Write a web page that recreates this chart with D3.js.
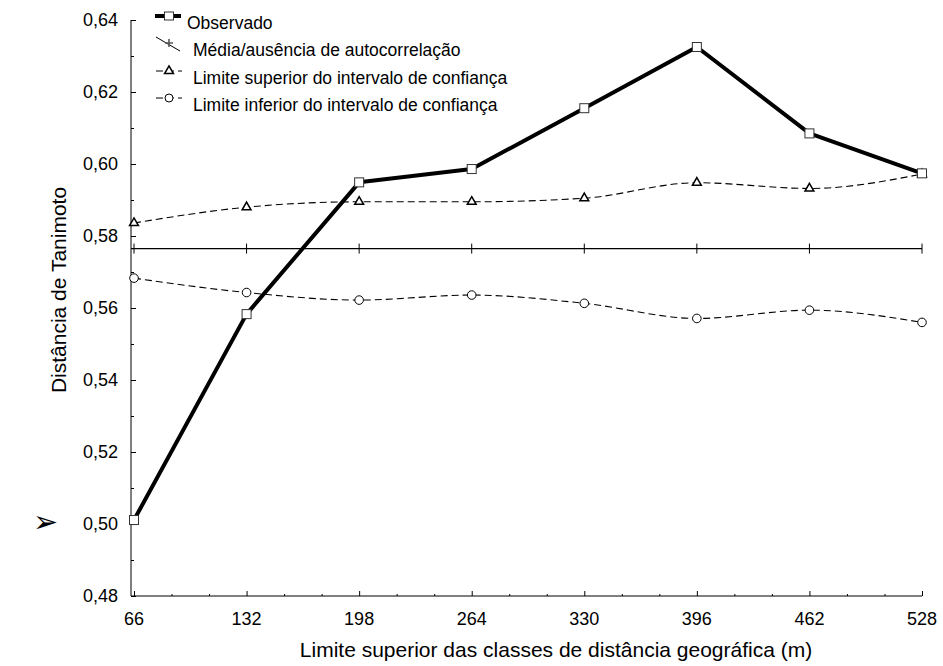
<!DOCTYPE html>
<html><head><meta charset="utf-8">
<script src="https://cdn.jsdelivr.net/npm/d3@7"></script>
<style>
html,body{margin:0;padding:0;background:#fff;}
svg{display:block;font-family:"Liberation Sans",Arial,sans-serif;}
</style></head>
<body>
<svg id="chart" width="943" height="666"></svg>
<script>
const distances = [66, 132, 198, 264, 330, 396, 462, 528];
const observed = [0.5011, 0.5583, 0.5949, 0.5986, 0.6155, 0.6325, 0.6085, 0.5974];
const upperCI = [0.5836, 0.5880, 0.5895, 0.5895, 0.5905, 0.5948, 0.5932, 0.5972];
const lowerCI = [0.5683, 0.5643, 0.5622, 0.5636, 0.5613, 0.5571, 0.5594, 0.5560];
const meanValue = 0.5765;
const meanSeries = distances.map(() => meanValue);
const yTicks = [0.48, 0.50, 0.52, 0.54, 0.56, 0.58, 0.60, 0.62, 0.64];
const yMinorTicks = [0.49, 0.51, 0.53, 0.55, 0.57, 0.59, 0.61, 0.63];
const xMinorTicks = [88, 110, 154, 176, 220, 242, 286, 308, 352, 374, 418, 440, 484, 506];
const legendLabels = ["Observado", "Média/ausência de autocorrelação", "Limite superior do intervalo de confiança", "Limite inferior do intervalo de confiança"];
const xTitle = "Limite superior das classes de distância geográfica (m)";
const yTitle = "Distância de Tanimoto";

const svg = d3.select("#chart");
const fmt = d => d.toFixed(2).replace(".", ",");

const x = d3.scaleLinear().domain([64.24, 528]).range([131, 922]);
const y = d3.scaleLinear().domain([0.48, 0.64]).range([596, 20]);

// axes
const gy = svg.append("g").attr("transform", `translate(${x.range()[0]},0)`)
  .call(d3.axisRight(y).tickValues(yTicks).tickSize(5).tickFormat(""));
gy.select(".domain").attr("d", `M0,${y(0.64)}V${y(0.48)}`);
svg.append("g").attr("transform", `translate(${x.range()[0]},0)`)
  .call(d3.axisRight(y).tickValues(yMinorTicks).tickSize(3).tickFormat(""))
  .call(g => g.select(".domain").remove());
svg.append("g").selectAll("text").data(yTicks).join("text")
  .attr("x", 118).attr("y", d => y(d)).attr("dy", "0.35em")
  .attr("text-anchor", "end").attr("font-size", 18).text(fmt);

const gx = svg.append("g").attr("transform", `translate(0,${y(0.48)})`)
  .call(d3.axisTop(x).tickValues(distances).tickSize(5).tickFormat(""));
gx.select(".domain").attr("d", `M${x.range()[0]},0H${x.range()[1]}`);
svg.append("g").attr("transform", `translate(0,${y(0.48)})`)
  .call(d3.axisTop(x).tickValues(xMinorTicks).tickSize(2).tickFormat(""))
  .call(g => g.select(".domain").remove());
svg.append("g").selectAll("text").data(distances).join("text")
  .attr("x", d => x(d)).attr("y", 625)
  .attr("text-anchor", "middle").attr("font-size", 18)
  .text(d => d);

svg.append("text").attr("x", 556).attr("y", 657).attr("text-anchor", "middle")
  .attr("font-size", 21).text(xTitle);
svg.append("text").attr("transform", "translate(66,290) rotate(-90)")
  .attr("text-anchor", "middle").attr("font-size", 21).text(yTitle);

// arrow glyph
svg.append("text").attr("x", 33).attr("y", 532).attr("font-size", 30)
  .attr("font-family", "DejaVu Sans").text("➢");

// mean line
svg.append("path")
  .attr("d", `M${x.range()[0]},${y(meanValue)}` + d3.line().x((d, i) => x(distances[i])).y(d => y(d))(meanSeries).replace(/^M/, "L"))
  .attr("fill", "none").attr("stroke", "#000").attr("stroke-width", 1.2);
svg.append("g").selectAll("path").data(meanSeries).join("path")
  .attr("d", (d, i) => `M${x(distances[i])},${y(d) - 5}V${y(d) + 5}`)
  .attr("stroke", "#000").attr("stroke-width", 1);

const smooth = d3.line().x((d, i) => x(distances[i])).y(d => y(d)).curve(d3.curveMonotoneX);
const straight = d3.line().x((d, i) => x(distances[i])).y(d => y(d));

[upperCI, lowerCI].forEach(s => {
  svg.append("path").attr("d", smooth(s)).attr("fill", "none")
    .attr("stroke", "#000").attr("stroke-width", 1.1).attr("stroke-dasharray", "7,4");
});
svg.append("path").attr("d", straight(observed)).attr("fill", "none")
  .attr("stroke", "#000").attr("stroke-width", 4).attr("stroke-linejoin", "round");

const tri = d3.symbol().type(d3.symbolTriangle).size(34);
svg.append("g").selectAll("path").data(upperCI).join("path")
  .attr("d", tri).attr("transform", (d, i) => `translate(${x(distances[i])},${y(d)})`)
  .attr("fill", "#fff").attr("stroke", "#000").attr("stroke-width", 1.5);
svg.append("g").selectAll("circle").data(lowerCI).join("circle")
  .attr("cx", (d, i) => x(distances[i])).attr("cy", d => y(d)).attr("r", 4.3)
  .attr("fill", "#fff").attr("stroke", "#000").attr("stroke-width", 1);
svg.append("g").selectAll("rect").data(observed).join("rect")
  .attr("x", (d, i) => x(distances[i]) - 4.5).attr("y", d => y(d) - 4.5)
  .attr("width", 9).attr("height", 9)
  .attr("fill", "#fff").attr("stroke", "#333").attr("stroke-width", 1);

// legend
const lg = svg.append("g");
const rowsY = [16, 43, 71, 98];
lg.append("path").attr("d", `M155,${rowsY[0]}H181`).attr("stroke", "#000").attr("stroke-width", 4);
lg.append("rect").attr("x", 164.5).attr("y", rowsY[0] - 4).attr("width", 9).attr("height", 8)
  .attr("fill", "#fff").attr("stroke", "#333");
lg.append("path").attr("d", `M156,${rowsY[1] - 6}L180,${rowsY[1] + 8}`).attr("stroke", "#000").attr("stroke-width", 1);
lg.append("path").attr("d", `M169,${rowsY[1] - 4}V${rowsY[1] + 4}M165,${rowsY[1]}H173`).attr("stroke", "#555").attr("stroke-width", 1.6);
lg.append("path").attr("d", `M156,${rowsY[2]}H182`).attr("stroke", "#000").attr("stroke-dasharray", "7,4").attr("stroke-width", 1);
lg.append("path").attr("d", tri).attr("transform", `translate(169,${rowsY[2]})`)
  .attr("fill", "#fff").attr("stroke", "#000").attr("stroke-width", 1.5);
lg.append("path").attr("d", `M156,${rowsY[3]}H182`).attr("stroke", "#000").attr("stroke-dasharray", "7,4").attr("stroke-width", 1);
lg.append("circle").attr("cx", 169).attr("cy", rowsY[3]).attr("r", 4)
  .attr("fill", "#fff").attr("stroke", "#000");
lg.selectAll("text").data(legendLabels).join("text")
  .attr("x", (d, i) => i === 0 ? 187 : 193).attr("y", (d, i) => rowsY[i] + 6.5)
  .attr("dy", "0.35em").attr("font-size", 17.5).text(d => d);
</script>
</body></html>
